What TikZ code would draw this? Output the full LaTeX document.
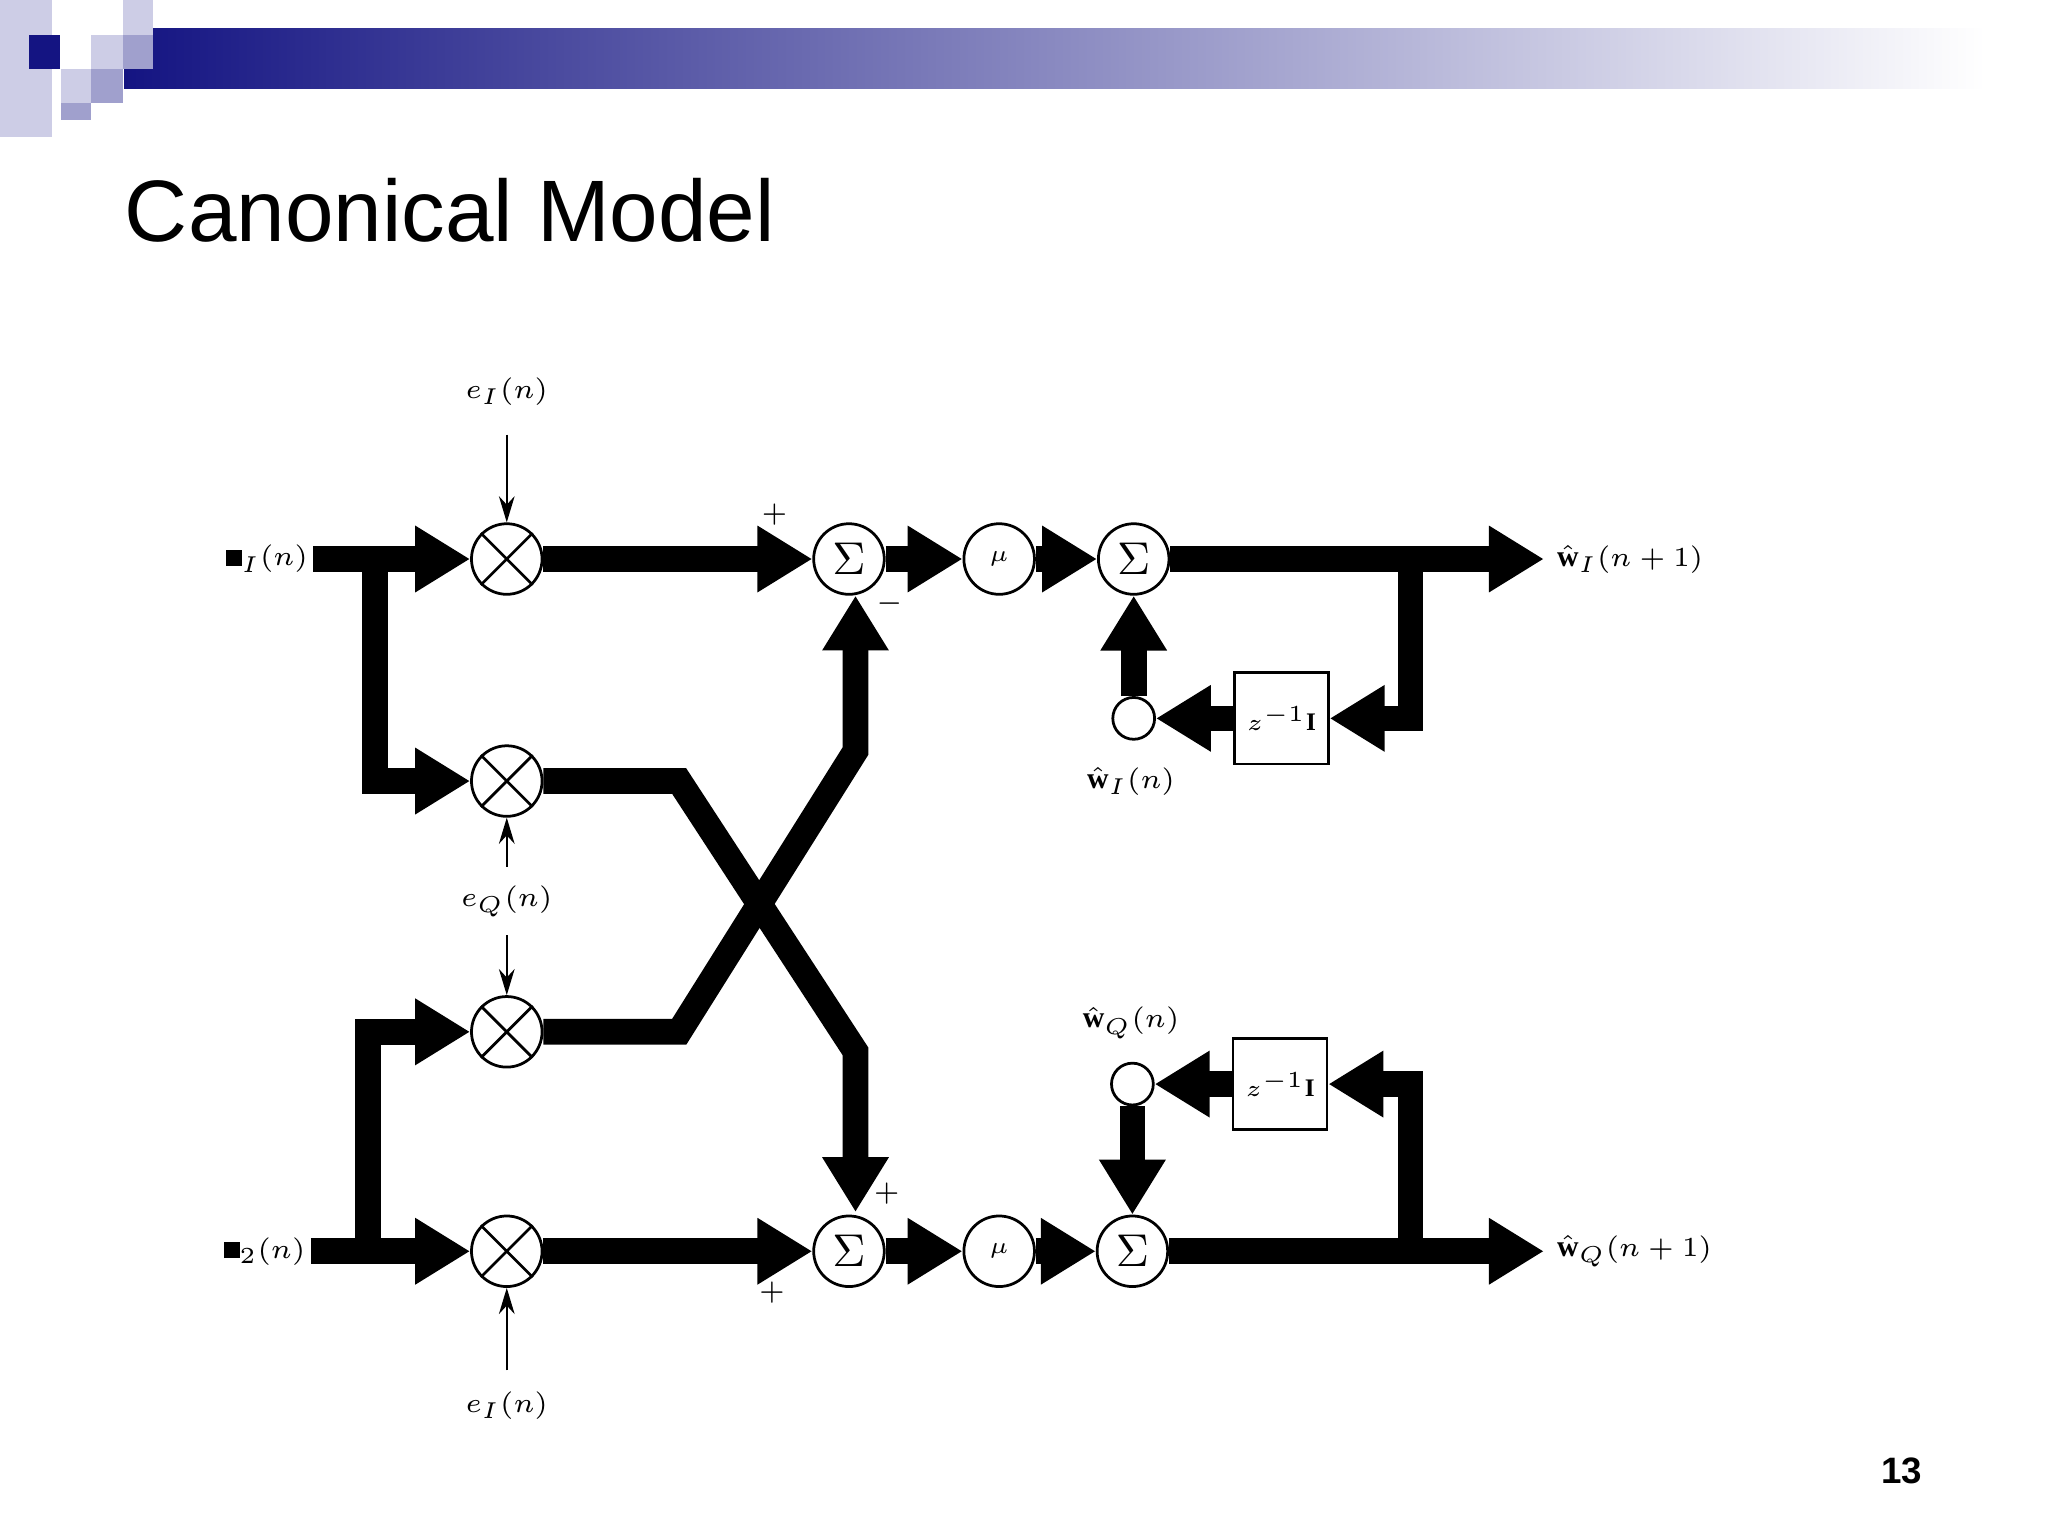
\documentclass[tikz,border=0pt]{standalone}
\usepackage{fontspec}
\setmainfont{Liberation Serif}
\newfontfamily\hdfont{Liberation Sans}
\usetikzlibrary{arrows.meta}
\definecolor{navy}{RGB}{20,20,130}
\definecolor{lav}{RGB}{205,205,230}
\definecolor{lavm}{RGB}{160,160,205}
\begin{document}
\begin{tikzpicture}[x=0.01cm,y=-0.01cm,
  thick/.style={line width=5.6pt,-{Triangle[length=0.42cm,width=0.48cm]}},
  thin/.style={line width=0.5pt,-{Stealth[length=0.2cm,width=0.12cm]}},
  circ/.style={circle,draw,line width=0.6pt,minimum size=0.54cm,inner sep=0pt,fill=white},
  small/.style={circle,draw,line width=0.6pt,minimum size=0.32cm,inner sep=0pt,fill=white},
  box/.style={draw,line width=0.6pt,minimum width=0.72cm,minimum height=0.7cm,inner sep=0pt,font=\fontsize{5.5}{7}\selectfont},
  lbl/.style={font=\fontsize{6.5}{8}\selectfont,inner sep=1pt}]
\useasboundingbox (0,0) rectangle (1568,1176);
% header
\fill[lav] (0,0) rectangle (40,105);
\shade[left color=navy,right color=white] (95,22) rectangle (1520,68);
\fill[navy] (22,27) rectangle (46,53);
\fill[lav] (94,0) rectangle (117,27);
\fill[lavm] (94,27) rectangle (117,53);
\fill[lav] (70,27) rectangle (94,53);
\fill[lavm] (70,53) rectangle (94,79);
\fill[lav] (47,53) rectangle (70,79);
\fill[lavm] (47,79) rectangle (70,92);
\node[anchor=base west,inner sep=0pt,font=\hdfont\fontsize{19}{22}\selectfont] (title) at (95,185) {Canonical Model};
\node[font=\hdfont\bfseries\fontsize{8}{10}\selectfont] (pg) at (1456,1126) {13};
% nodes
\node[circ] (m1) at (388,428) {};
\node[circ] (m2) at (388,598) {};
\node[circ] (m3) at (388,790) {};
\node[circ] (m4) at (388,958) {};
\foreach \m in {m1,m2,m3,m4}{
  \draw[line width=0.6pt] (\m.north west) -- (\m.south east) (\m.north east) -- (\m.south west);}
\node[circ,font=\fontsize{10}{10}\selectfont] (s1) at (650,428) {$\Sigma$};
\node[circ,font=\fontsize{5}{6}\selectfont] (mu1) at (765,428) {$\mu$};
\node[circ,font=\fontsize{10}{10}\selectfont] (s2) at (868,428) {$\Sigma$};
\node[circ,font=\fontsize{10}{10}\selectfont] (s3) at (650,958) {$\Sigma$};
\node[circ,font=\fontsize{5}{6}\selectfont] (mu2) at (765,958) {$\mu$};
\node[circ,font=\fontsize{10}{10}\selectfont] (s4) at (867,958) {$\Sigma$};
\node[small] (c1) at (868,550) {};
\node[small] (c2) at (867,830) {};
\node[box] (z1) at (981,550) {$z^{-1}\mathbf{I}$};
\node[box] (z2) at (980,830) {$z^{-1}\mathbf{I}$};
% labels
\node[lbl,anchor=east] (x1) at (240,428) {\rule{3.5pt}{3.5pt}$_I(n)$};
\node[lbl,anchor=east] (x2) at (238,958) {\rule{3.5pt}{3.5pt}$_2(n)$};
\node[lbl] (eI1) at (388,300) {$e_I(n)$};
\node[lbl] (eQ) at (388,690) {$e_Q(n)$};
\node[lbl] (eI2) at (388,1076) {$e_I(n)$};
\node[lbl,anchor=west] (o1) at (1188,428) {$\hat{\mathbf{w}}_I(n+1)$};
\node[lbl,anchor=west] (o2) at (1188,958) {$\hat{\mathbf{w}}_Q(n+1)$};
\node[lbl] (wI) at (866,598) {$\hat{\mathbf{w}}_I(n)$};
\node[lbl] (wQ) at (866,783) {$\hat{\mathbf{w}}_Q(n)$};
\node[lbl] (p1) at (593,394) {$+$};
\node[lbl] (n1) at (681,462) {$-$};
\node[lbl] (p2) at (679,914) {$+$};
\node[lbl] (p3) at (591,990) {$+$};
% thin arrows
\draw[thin] (eI1.south) ++(0,18) coordinate (a1) (a1) -- (m1.north);
\draw[thin] (eQ.north) ++(0,-10) coordinate (a2) (a2) -- (m2.south);
\draw[thin] (eQ.south) ++(0,10) coordinate (a3) (a3) -- (m3.north);
\draw[thin] (eI2.north) ++(0,-12) coordinate (a4) (a4) -- (m4.south);
% thick top
\coordinate (b1) at (287,428);
\coordinate (b2) at (282,958);
\draw[thick] (x1.east) -- (m1.west);
\draw[thick] (b1) |- (m2.west);
\draw[thick] (m1.east) -- (s1.west);
\draw[thick] (s1.east) -- (mu1.west);
\draw[thick] (mu1.east) -- (s2.west);
\draw[thick] (s2.east) -- (1182,428);
\coordinate (f1) at (1080,428);
\draw[thick] (f1) |- (z1.east);
\draw[thick] (z1.west) -- (c1.east);
\draw[thick] (c1.north) -- (s2.south);
% cross
\draw[thick] (m2.east) -- (520,598) -- (655,805) -- (655,928);
\draw[thick] (m3.east) -- (520,790) -- (655,575) -- (655,456);
% bottom
\draw[thick] (x2.east) -- (m4.west);
\draw[thick] (b2) |- (m3.west);
\draw[thick] (m4.east) -- (s3.west);
\draw[thick] (s3.east) -- (mu2.west);
\draw[thick] (mu2.east) -- (s4.west);
\draw[thick] (s4.east) -- (1182,958);
\coordinate (f2) at (1080,958);
\draw[thick] (f2) |- (z2.east);
\draw[thick] (z2.west) -- (c2.east);
\draw[thick] (c2.south) -- (s4.north);
\end{tikzpicture}
\end{document}
